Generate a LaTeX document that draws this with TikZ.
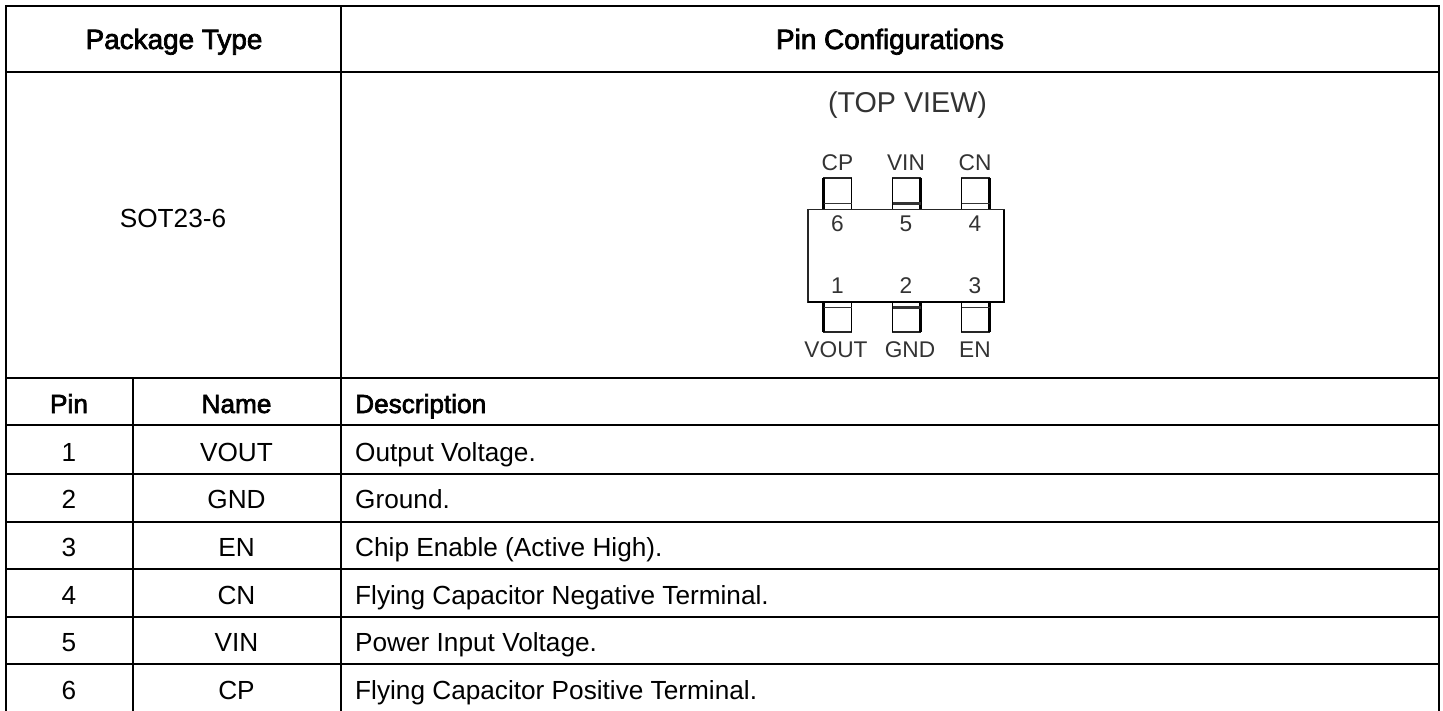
\documentclass[tikz,border=0pt]{standalone}
\usepackage{fontspec}
\setmainfont{Liberation Sans}
\newfontfamily\headfont[FakeBold=2.5]{Liberation Sans}
\usetikzlibrary{positioning}

\tikzset{
    rule/.style={line width=2pt},
    celltext/.style={inner sep=0pt, anchor=base, font=\fontsize{26.2}{28}\selectfont},
    headtext/.style={celltext, font=\headfont\fontsize{26.2}{28}\selectfont},
    toptext/.style={celltext, font=\headfont\fontsize{27.9}{30}\selectfont},
    thin pin/.style={line width=1.2pt, color=black!85},
    thick pin/.style={line width=2.4pt},
    pinlabel/.style={inner sep=0pt, anchor=base, text=black!80, font=\fontsize{22.7}{24}\selectfont}
}

\begin{document}
\begin{tikzpicture}[x=1pt,y=-1pt]
    \useasboundingbox (0,0) rectangle (1443,711);

    % Table rules
    \draw[rule] (6,711) -- (6,6) -- (1439,6) -- (1439,711);
    \draw[rule] (341,6) -- (341,711);
    \draw[rule] (133,378) -- (133,711);
    \foreach \y in {72,378,425,474,522,569,617,664}
        \draw[rule] (6,\y) -- (1439,\y);

    % Top rows
    \node[toptext] (typehead) at (174,49) {Package Type};
    \node[toptext] (confhead) at (890,49) {Pin Configurations};
    \node[celltext] (package) at (173,228) {SOT23-6};
    \node[headtext] (pinhead) at (69,413) {Pin};
    \node[headtext] (namehead) at (236.5,413) {Name};
    \node[headtext, anchor=base west] (deschead) at (355,413) {Description};

    % Pin rows
    \foreach \n/\name/\desc in {1/VOUT/Output Voltage.,
        2/GND/Ground.,
        3/EN/Chip Enable (Active High).,
        4/CN/Flying Capacitor Negative Terminal.,
        5/VIN/Power Input Voltage.,
        6/CP/Flying Capacitor Positive Terminal.} {
        \pgfmathsetmacro{\rowy}{461+47.7*(\n-1)}
        \node[celltext] (pin\n) at (69,\rowy) {\n};
        \node[celltext] (name\n) at (236.5,\rowy) {\name};
        \node[celltext, anchor=base west] (desc\n) at (355,\rowy) {\desc};
    }

    % Top view drawing
    \node[pinlabel, font=\fontsize{28.7}{30}\selectfont] (topview) at (907.5,113) {(TOP VIEW)};

    % Upper pins
    \foreach \l/\r/\lw/\rw/\mw in {823.5/851.5/2.6/1.2/1.2,892.5/920.5/1.2/2.6/2.4,961.5/989.5/1.2/2.6/1.2} {
        \draw[thin pin] (\l,209.7) |- (\r,178) -- (\r,209.7);
        \draw[line width=\lw pt] (\l,178) -- (\l,209.7);
        \draw[line width=\rw pt] (\r,178) -- (\r,209.7);
        \draw[line width=\mw pt, color=black!80] (\l,203.5) -- (\r,203.5);
    }

    % Lower pins
    \foreach \l/\r/\lw/\rw/\mw in {823.5/851.5/2.6/1.2/1.2,892.5/920.5/1.2/2.6/2.4,961.5/989.5/1.2/2.6/1.2} {
        \draw[thin pin] (\l,302.3) |- (\r,332) -- (\r,302.3);
        \draw[line width=\lw pt] (\l,302.3) -- (\l,332);
        \draw[line width=\rw pt] (\r,302.3) -- (\r,332);
        \draw[line width=\mw pt, color=black!80] (\l,307.7) -- (\r,307.7);
    }

    % Package body
    \filldraw[thin pin, fill=white] (808,302.3) |- (1004,209.7) -- (1004,302.3) -- cycle;
    \draw[thick pin] (1004,209.7) -- (1004,302.3) -- (808,302.3);

    \foreach \n/\x in {6/837.5,5/906,4/975} {
        \node[pinlabel] (num\n) at (\x,232) {\n};
    }
    \foreach \n/\x in {1/837.5,2/906,3/975} {
        \node[pinlabel] (num\n) at (\x,294) {\n};
    }
    \node[pinlabel] (lblcp) at (837.5,171) {CP};
    \node[pinlabel] (lblvin) at (906,171) {VIN};
    \node[pinlabel] (lblcn) at (975,171) {CN};
    \node[pinlabel] (lblvout) at (836,357) {VOUT};
    \node[pinlabel] (lblgnd) at (910,357) {GND};
    \node[pinlabel] (lblen) at (975,357) {EN};
\end{tikzpicture}
\end{document}
